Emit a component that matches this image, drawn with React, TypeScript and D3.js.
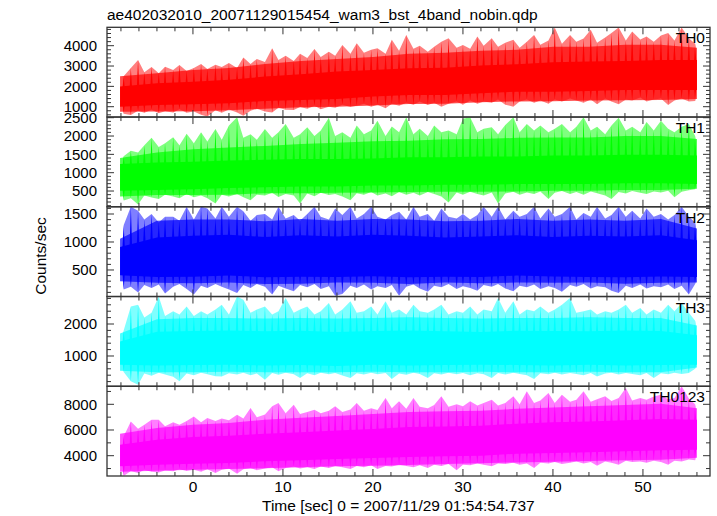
import React from "react";
import * as d3 from "d3";

const TITLE = "ae402032010_20071129015454_wam3_bst_4band_nobin.qdp";
const X_LABEL = "Time [sec] 0 = 2007/11/29 01:54:54.737";
const Y_LABEL = "Counts/sec";

const bandNames = ["TH0", "TH1", "TH2", "TH3", "TH0123"];
const bandColors = ["#ff0000", "#00ff00", "#0000ff", "#00ffff", "#ff00ff"];

// time grid (sec) of the envelope readings
const timeGrid = [-8.1, -4, 0, 4, 8, 12, 16, 20, 24, 28, 32, 36, 40, 44, 48, 52, 56];

// dense core of each light curve (upper / lower edge), counts/sec
const th0CoreHi = [1990, 2150, 2230, 2320, 2480, 2600, 2730, 2810, 2890, 2920, 3020, 3090, 3190, 3220, 3250, 3300, 3300];
const th0CoreLo = [1000, 1080, 1120, 1170, 1280, 1330, 1380, 1500, 1580, 1580, 1660, 1740, 1740, 1770, 1820, 1820, 1820];
const th0OutHi = [2500, 2650, 2800, 2900, 3100, 3250, 3350, 3450, 3600, 3650, 3750, 3800, 3950, 3950, 4050, 4050, 3900];
const th0OutLo = [750, 760, 780, 830, 900, 970, 1000, 1060, 1130, 1140, 1220, 1260, 1270, 1300, 1320, 1330, 1380];

const th1CoreHi = [1240, 1280, 1300, 1330, 1350, 1370, 1370, 1390, 1420, 1420, 1440, 1440, 1470, 1470, 1490, 1490, 1470];
const th1CoreLo = [510, 530, 550, 580, 600, 620, 620, 650, 650, 670, 670, 690, 690, 690, 710, 710, 690];
const th1OutHi = [1400, 1550, 1640, 1690, 1730, 1780, 1820, 1860, 1870, 1910, 1920, 1950, 1960, 1960, 2000, 2000, 1920];
const th1OutLo = [350, 390, 390, 400, 440, 440, 450, 460, 470, 480, 480, 490, 510, 510, 530, 530, 560];

const th2CoreHi = [910, 1080, 1110, 1130, 1090, 1120, 1100, 1130, 1110, 1080, 1100, 1120, 1090, 1110, 1100, 1120, 1030];
const th2CoreLo = [405, 375, 380, 400, 370, 380, 375, 390, 370, 380, 375, 400, 385, 375, 370, 385, 375];
const th2OutHi = [1060, 1380, 1400, 1400, 1370, 1410, 1380, 1410, 1400, 1370, 1380, 1410, 1380, 1400, 1380, 1410, 1240];
const th2OutLo = [300, 270, 265, 275, 250, 255, 275, 270, 250, 275, 265, 275, 270, 275, 255, 270, 275];

const th3CoreHi = [1450, 1760, 1780, 1800, 1770, 1790, 1750, 1780, 1800, 1770, 1750, 1790, 1780, 1770, 1800, 1780, 1650];
const th3CoreLo = [730, 700, 720, 730, 700, 720, 690, 730, 700, 720, 730, 720, 700, 730, 700, 720, 730];
const th3OutHi = [1700, 2150, 2190, 2190, 2170, 2190, 2170, 2190, 2210, 2190, 2170, 2190, 2190, 2210, 2190, 2190, 1950];
const th3OutLo = [540, 490, 490, 510, 490, 490, 490, 510, 490, 490, 510, 490, 490, 510, 490, 490, 640];

const th0123CoreHi = [4860, 5250, 5450, 5560, 5710, 5820, 5970, 6080, 6230, 6280, 6340, 6490, 6600, 6670, 6750, 6850, 6800];
const th0123CoreLo = [3170, 3300, 3380, 3430, 3560, 3640, 3740, 3820, 3900, 3950, 4000, 4160, 4210, 4260, 4340, 4420, 4470];
const th0123OutHi = [5700, 6150, 6400, 6550, 6800, 6950, 7080, 7250, 7400, 7450, 7500, 7650, 7750, 7850, 7950, 8050, 7700];
const th0123OutLo = [2750, 2830, 2900, 2960, 3020, 3100, 3170, 3220, 3280, 3350, 3420, 3480, 3530, 3580, 3640, 3690, 3850];

const peakTimes = [
  -7.7, -6.9, -6.1, -5.4, -4.6, -3.8, -3.1, -2.2, -1.5, -0.7,
  0.1, 0.9, 1.6, 2.5, 3.2, 4.0, 4.9, 5.6, 6.4, 7.1,
  8.0, 8.8, 9.5, 10.3, 11.2, 11.9, 12.7, 13.5, 14.2, 15.1,
  15.8, 16.6, 17.5, 18.2, 19.0, 19.8, 20.5, 21.4, 22.1, 22.9,
  23.7, 24.5, 25.2, 26.1, 26.8, 27.6, 28.4, 29.3, 30.0, 30.8,
  31.6, 32.3, 33.2, 33.9, 34.7, 35.6, 36.3, 37.1, 37.9, 38.6,
  39.5, 40.2, 41.0, 41.9, 42.6, 43.4, 44.2, 44.9, 45.8, 46.5,
  47.3, 48.1, 48.8, 49.7, 50.4, 51.2, 52.0, 52.8, 53.5, 54.3,
  55.1, 55.8,
];

// local maxima / minima (counts/sec) at peakTimes
const th0PeakHi = [
  2500, 2900, 3300, 2700, 2950, 2650, 2970, 2800, 3050, 2750,
  2900, 3100, 2850, 3060, 2950, 3150, 2900, 3420, 3100, 3350,
  3200, 3880, 3300, 3500, 3250, 3600, 3400, 3840, 3450, 3700,
  3500, 4040, 3600, 4120, 3650, 3800, 3880, 3600, 4290, 3750,
  4530, 3850, 4000, 3700, 3950, 4200, 4370, 3900, 4040, 3850,
  4450, 4000, 4370, 3950, 4150, 4290, 3900, 4200, 4530, 4050,
  4250, 4890, 4100, 4530, 4200, 4350, 4780, 4150, 4400, 4620,
  4900, 4250, 4700, 4300, 4450, 4200, 4500, 4620, 4250, 4890,
  4370, 4100,
];
const th0PeakLo = [
  650, 590, 800, 700, 850, 680, 780, 720, 880, 700,
  760, 600, 520, 820, 700, 860, 720, 560, 800, 900,
  760, 720, 950, 850, 840, 980, 900, 1050, 880, 1000,
  950, 1100, 980, 1050, 1150, 1000, 1100, 920, 1150, 1050,
  1200, 1100, 1250, 1080, 1200, 1000, 1150, 1250, 1100, 1300,
  1150, 1250, 1200, 1350, 1100, 1000, 1250, 1350, 1200, 1300,
  1150, 1350, 1250, 1400, 1300, 1200, 1350, 1120, 1400, 1250,
  1120, 1350, 1300, 1450, 1250, 1350, 1400, 1080, 1300, 1400,
  1250, 1280,
];

const th1PeakHi = [
  1450, 1600, 1550, 1750, 1950, 1700, 1800, 1970, 1750, 2060,
  1800, 2100, 1850, 2190, 1900, 2290, 2510, 1950, 2050, 1900,
  2190, 1950, 2100, 2330, 1950, 2050, 2240, 2000, 2150, 2500,
  2000, 2100, 1950, 2290, 2050, 2150, 2420, 2000, 2260, 2100,
  2510, 2050, 2200, 2000, 2290, 2100, 2150, 2050, 2470, 2510,
  2100, 2200, 2240, 2050, 2300, 2510, 2100, 2330, 2150, 2290,
  2100, 2200, 2330, 2100, 2250, 2510, 2150, 2250, 2050, 2290,
  2500, 2150, 2250, 2100, 2380, 2150, 2420, 2200, 2100, 2250,
  2330, 2000,
];
const th1PeakLo = [
  240, 300, 130, 380, 320, 280, 400, 350, 300, 420,
  330, 380, 300, 160, 400, 350, 420, 330, 250, 400,
  380, 450, 340, 420, 380, 160, 430, 360, 450, 390,
  420, 350, 250, 440, 400, 470, 380, 430, 360, 470,
  400, 450, 380, 470, 420, 350, 190, 460, 400, 480,
  420, 380, 460, 160, 430, 480, 400, 460, 420, 490,
  280, 450, 500, 420, 470, 400, 490, 440, 380, 280,
  470, 430, 500, 450, 420, 490, 460, 510, 330, 480,
  520, 550,
];

const th2PeakHi = [
  1300, 1630, 1560, 1400, 1500, 1350, 1450, 1450, 1380, 1630,
  1400, 1630, 1600, 1420, 1630, 1450, 1630, 1550, 1380, 1480,
  1500, 1400, 1630, 1420, 1480, 1380, 1500, 1630, 1450, 1400,
  1600, 1480, 1630, 1420, 1500, 1630, 1450, 1400, 1480, 1540,
  1400, 1630, 1450, 1500, 1380, 1600, 1450, 1420, 1500, 1400,
  1480, 1630, 1450, 1630, 1400, 1560, 1450, 1500, 1630, 1420,
  1600, 1450, 1500, 1630, 1400, 1520, 1450, 1630, 1420, 1480,
  1630, 1450, 1560, 1420, 1600, 1450, 1500, 1400, 1480, 1630,
  1450, 1350,
];
const th2PeakLo = [
  150, 200, 100, 230, 180, 240, 80, 200, 250, 160,
  60, 220, 180, 250, 200, 150, 90, 230, 180, 250,
  200, 60, 220, 170, 120, 230, 190, 250, 160, 210,
  40, 70, 220, 180, 240, 150, 210, 180, 230, 40,
  200, 240, 170, 110, 220, 190, 250, 160, 210, 180,
  130, 230, 200, 250, 170, 120, 220, 190, 240, 160,
  210, 180, 110, 230, 200, 250, 170, 210, 190, 130,
  90, 220, 180, 240, 170, 210, 190, 240, 160, 220,
  60, 250,
];

const th3PeakHi = [
  1800, 2550, 2600, 2200, 2350, 2860, 2250, 2400, 2300, 2550,
  2250, 2400, 2300, 2450, 2600, 2300, 2860, 2760, 2350, 2450,
  2550, 2300, 2400, 2810, 2350, 2450, 2550, 2300, 2400, 2660,
  2300, 2450, 2710, 2350, 2400, 2550, 2300, 2710, 2350, 2450,
  2300, 2600, 2400, 2350, 2450, 2600, 2300, 2400, 2350, 2550,
  2300, 2450, 2400, 2810, 2350, 2710, 2300, 2450, 2400, 2550,
  2350, 2450, 2600, 2810, 2350, 2400, 2450, 2300, 2400, 2350,
  2450, 2600, 2350, 2500, 2300, 2450, 2350, 2600, 2400, 2660,
  2350, 2100,
];
const th3PeakLo = [
  500, 210, 100, 450, 380, 480, 420, 350, 210, 450,
  400, 480, 430, 370, 360, 460, 420, 480, 400, 450,
  260, 470, 410, 480, 430, 310, 460, 400, 480, 430,
  470, 390, 310, 460, 420, 480, 430, 470, 280, 450,
  410, 480, 440, 310, 460, 420, 480, 430, 470, 400,
  460, 430, 310, 470, 420, 480, 440, 400, 280, 460,
  430, 480, 420, 470, 440, 400, 470, 360, 450, 480,
  420, 470, 440, 400, 470, 310, 460, 430, 480, 440,
  470, 600,
];

const th0123PeakHi = [
  5500, 6670, 6100, 6400, 6800, 6800, 6300, 6600, 6400, 6700,
  7060, 6600, 6930, 6700, 6900, 6750, 7190, 6900, 7710, 7000,
  7200, 7840, 8100, 7300, 7970, 7250, 7400, 7580, 7300, 7500,
  7840, 7400, 7600, 8100, 7500, 7700, 7550, 8490, 7700, 8230,
  7650, 8490, 7800, 7700, 7950, 8620, 7800, 8000, 7850, 8230,
  7900, 8100, 8360, 7900, 8100, 8620, 8000, 9010, 8100, 8300,
  8880, 8100, 8750, 8200, 8350, 9010, 8200, 8400, 8620, 8250,
  8500, 9270, 8300, 8490, 8350, 8600, 8750, 8400, 8500, 9400,
  8450, 8000,
];
const th0123PeakLo = [
  2420, 2800, 2650, 2900, 2750, 2700, 2850, 2780, 2950, 2800,
  2900, 2750, 2950, 2650, 2900, 3000, 2600, 2950, 3050, 2860,
  3000, 3100, 2780, 3050, 3150, 3000, 3100, 2960, 3150, 3050,
  3200, 3100, 2960, 3200, 3100, 3250, 2960, 3200, 3150, 3300,
  3200, 3100, 3250, 3040, 3300, 3200, 3350, 2860, 3300, 3250,
  3400, 3300, 3170, 3400, 3350, 3450, 3300, 3400, 3040, 3450,
  3400, 3500, 3350, 3450, 3550, 3400, 3500, 3220, 3550, 3450,
  3300, 3600, 3500, 3550, 3450, 3600, 3500, 3300, 3600, 3550,
  3700, 3640,
];

// axis settings
const xDomain = [-9.55, 57.45];
const xMajorStep = 10;
const xMinorStep = 2;
const xTickLabels = [0, 10, 20, 30, 40, 50];
const yDomains = [[491, 4905], [70, 2518], [26, 1629], [54, 2859], [2420, 9404]];
const yMajorSteps = [1000, 500, 500, 1000, 2000];
const yMinorSteps = [200, 100, 100, 200, 1000];

const panels = [
  { coreHi: th0CoreHi, coreLo: th0CoreLo, outHi: th0OutHi, outLo: th0OutLo, hi: th0PeakHi, lo: th0PeakLo },
  { coreHi: th1CoreHi, coreLo: th1CoreLo, outHi: th1OutHi, outLo: th1OutLo, hi: th1PeakHi, lo: th1PeakLo },
  { coreHi: th2CoreHi, coreLo: th2CoreLo, outHi: th2OutHi, outLo: th2OutLo, hi: th2PeakHi, lo: th2PeakLo },
  { coreHi: th3CoreHi, coreLo: th3CoreLo, outHi: th3OutHi, outLo: th3OutLo, hi: th3PeakHi, lo: th3PeakLo },
  { coreHi: th0123CoreHi, coreLo: th0123CoreLo, outHi: th0123OutHi, outLo: th0123OutLo, hi: th0123PeakHi, lo: th0123PeakLo },
];

const W = 717;
const H = 516;
const LEFT = 107;
const RIGHT = 710;
const TOP = 27.3;
const BOTTOM = 476;
const FONT = "'Liberation Sans', Arial, Helvetica, sans-serif";

export default function App() {
  const x = d3.scaleLinear().domain(xDomain).range([LEFT, RIGHT]);
  const ph = (BOTTOM - TOP) / panels.length;

  const xTicks: number[] = [];
  for (let t = Math.ceil(xDomain[0] / xMinorStep) * xMinorStep; t <= xDomain[1]; t += xMinorStep) xTicks.push(t);

  return (
    <svg width={W} height={H} style={{ position: "absolute", left: 0, top: 0, background: "#fff" }} fontFamily={FONT}>
      <defs>
        {panels.map((_, i) => (
          <clipPath id={`clip${i}`} key={i}>
            <rect x={LEFT} y={TOP + i * ph} width={RIGHT - LEFT} height={ph} />
          </clipPath>
        ))}
      </defs>
      <text x={107} y={20} fontSize={15.5} fill="#000">{TITLE}</text>
      {panels.map((p, i) => {
        const y0 = TOP + i * ph;
        const y1 = y0 + ph;
        const y = d3.scaleLinear().domain(yDomains[i]).range([y1, y0]);
        const color = bandColors[i];
        const outArea = d3.area<number>()
          .x((_, k) => x(timeGrid[k]))
          .y0((_, k) => y(p.outLo[k]))
          .y1((_, k) => y(p.outHi[k]));
        const coreArea = d3.area<number>()
          .x((_, k) => x(timeGrid[k]))
          .y0((_, k) => y(p.coreLo[k]))
          .y1((_, k) => y(p.coreHi[k]));
        const peakArea = d3.area<number>()
          .x((t) => x(t))
          .y0((_, k) => y(p.lo[k]))
          .y1((_, k) => y(p.hi[k]));
        const coreHiEdge = d3.scaleLinear().domain(timeGrid).range(p.coreHi).clamp(true);
        const coreLoEdge = d3.scaleLinear().domain(timeGrid).range(p.coreLo).clamp(true);
        const yTicks: number[] = [];
        const [d0, d1] = yDomains[i];
        for (let v = Math.ceil(d0 / yMinorSteps[i]) * yMinorSteps[i]; v <= d1; v += yMinorSteps[i]) yTicks.push(v);
        return (
          <g key={i}>
            <g clipPath={`url(#clip${i})`}>
              <path d={peakArea(peakTimes) || ""} fill={color} fillOpacity={0.5} />
              <path d={outArea(timeGrid) || ""} fill={color} fillOpacity={0.7} />
              {peakTimes.map((t, k) => {
                const xs = x(t);
                const yb = y(coreHiEdge(t));
                const yl = y(coreLoEdge(t));
                return (
                  <g key={"s" + k}>
                    <path d={`M${xs - 1.3},${yb + 4}L${xs},${y(p.hi[k])}L${xs + 1.3},${yb + 4}Z`} fill={color} />
                    <path d={`M${xs - 1.3},${yl - 4}L${xs},${y(p.lo[k])}L${xs + 1.3},${yl - 4}Z`} fill={color} />
                  </g>
                );
              })}
              <path d={coreArea(timeGrid) || ""} fill={color} />
            </g>
            {xTicks.map((t) => {
              const major = Math.abs(t % xMajorStep) < 1e-9;
              const len = major ? 7 : 4;
              const xs = x(t);
              return (
                <g key={"xt" + t} stroke="#333" strokeWidth={1}>
                  <line x1={xs} x2={xs} y1={y0} y2={y0 + len} />
                  <line x1={xs} x2={xs} y1={y1} y2={y1 - len} />
                </g>
              );
            })}
            {yTicks.map((v) => {
              const major = Math.abs(v % yMajorSteps[i]) < 1e-9;
              const len = major ? 7 : 4;
              const ys = y(v);
              return (
                <g key={"yt" + v}>
                  <line x1={LEFT} x2={LEFT + len} y1={ys} y2={ys} stroke="#333" />
                  <line x1={RIGHT} x2={RIGHT - len} y1={ys} y2={ys} stroke="#333" />
                  {major && (
                    <text x={97} y={ys + 5.2} fontSize={15} textAnchor="end" fill="#000">{v}</text>
                  )}
                </g>
              );
            })}
            <rect x={LEFT} y={y0} width={RIGHT - LEFT} height={ph} fill="none" stroke="#333" strokeWidth={1.3} />
            <text x={705} y={y0 + 16} fontSize={15.5} textAnchor="end" fill="#000">{bandNames[i]}</text>
          </g>
        );
      })}
      {xTickLabels.map((t) => (
        <text key={"xl" + t} x={x(t)} y={492} fontSize={15.5} textAnchor="middle" fill="#000">{t}</text>
      ))}
      <text x={262} y={511} fontSize={15.5} fill="#000">{X_LABEL}</text>
      <text transform={`translate(46,256) rotate(-90)`} fontSize={15.5} textAnchor="middle" fill="#000">{Y_LABEL}</text>
    </svg>
  );
}
